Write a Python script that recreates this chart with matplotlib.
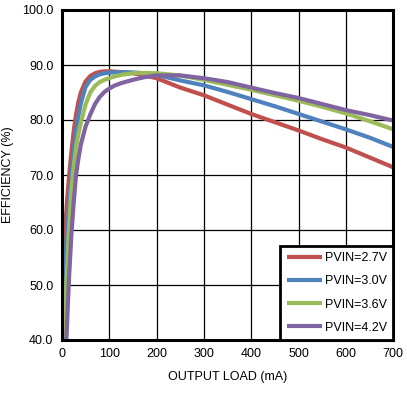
import matplotlib
matplotlib.use('Agg')
import matplotlib.pyplot as plt

# output load (mA) shared by all curves
load_ma = [2, 4, 6, 8, 10, 12, 15, 20, 25, 30, 35, 40, 50, 60, 70, 80, 90, 100, 110, 125,
           150, 175, 200, 250, 300, 350, 400, 450, 500, 550, 600, 650, 700]

# efficiency (%) per input voltage
eff_27 = [48.0, 53.0, 58.0, 61.5, 64.0, 66.5, 69.5, 74.0, 78.0, 81.0, 83.3, 85.0, 87.0,
          88.0, 88.5, 88.75, 88.85, 88.85, 88.8, 88.7, 88.5, 88.1, 87.6, 85.9, 84.5, 82.8,
          81.1, 79.6, 78.1, 76.5, 75.0, 73.2, 71.4]
eff_30 = [41.5, 47.0, 51.5, 55.0, 58.5, 61.0, 64.5, 70.0, 74.5, 78.0, 80.8, 83.0, 86.0,
          87.3, 87.9, 88.3, 88.5, 88.6, 88.65, 88.7, 88.65, 88.5, 88.2, 87.2, 86.3, 85.1,
          83.8, 82.5, 81.1, 79.7, 78.3, 76.8, 75.1]
eff_36 = [36.0, 40.0, 44.0, 48.0, 51.0, 54.0, 60.0, 67.0, 71.5, 75.0, 77.5, 79.5, 82.8,
          85.0, 86.2, 86.9, 87.3, 87.6, 87.9, 88.2, 88.5, 88.55, 88.5, 88.1, 87.3, 86.4,
          85.5, 84.5, 83.5, 82.4, 81.2, 79.8, 78.3]
eff_42 = [30.0, 34.0, 36.0, 38.0, 41.0, 45.0, 51.0, 59.0, 65.0, 70.0, 73.0, 75.5, 78.8,
          81.0, 82.9, 84.2, 85.1, 85.7, 86.2, 86.7, 87.3, 87.8, 88.1, 88.1, 87.6, 86.9,
          85.9, 84.9, 84.0, 82.9, 81.8, 80.9, 79.9]

series = [
    ("PVIN=2.7V", eff_27, "#C0504D"),
    ("PVIN=3.0V", eff_30, "#4F81BD"),
    ("PVIN=3.6V", eff_36, "#9BBB59"),
    ("PVIN=4.2V", eff_42, "#8064A2"),
]

plt.rcParams['font.family'] = ['Liberation Sans', 'DejaVu Sans']

fig = plt.figure(figsize=(4.07, 4.00), dpi=100)
ax = fig.add_axes([0.152, 0.15, 0.814, 0.825])

for label, eff, color in series:
    ax.plot(load_ma, eff, color=color, linewidth=3, label=label,
            solid_capstyle='butt', solid_joinstyle='round')

ax.set_xlim(0, 700)
ax.set_ylim(40, 100)
ax.set_xticks(range(0, 701, 100))
ax.set_yticks(range(40, 101, 10))
ax.set_yticklabels([f'{v:.1f}' for v in range(40, 101, 10)])
ax.tick_params(length=0, labelsize=9, pad=6)
ax.grid(True, color='black', linewidth=0.9)
ax.set_axisbelow(True)
for sp in ax.spines.values():
    sp.set_linewidth(2.2)

ax.set_xlabel('OUTPUT LOAD (mA)', fontsize=9, labelpad=8)
ax.set_ylabel('EFFICIENCY (%)', fontsize=9, labelpad=6)

leg = ax.legend(loc='lower right', fontsize=9, frameon=True, fancybox=False,
                borderaxespad=0, handlelength=2.8, labelspacing=0.9,
                handletextpad=0.25, borderpad=0.5)
leg.get_frame().set_edgecolor('black')
leg.get_frame().set_linewidth(2)
leg.get_frame().set_alpha(1)

fig.savefig('out.png', dpi=100, facecolor='white')
